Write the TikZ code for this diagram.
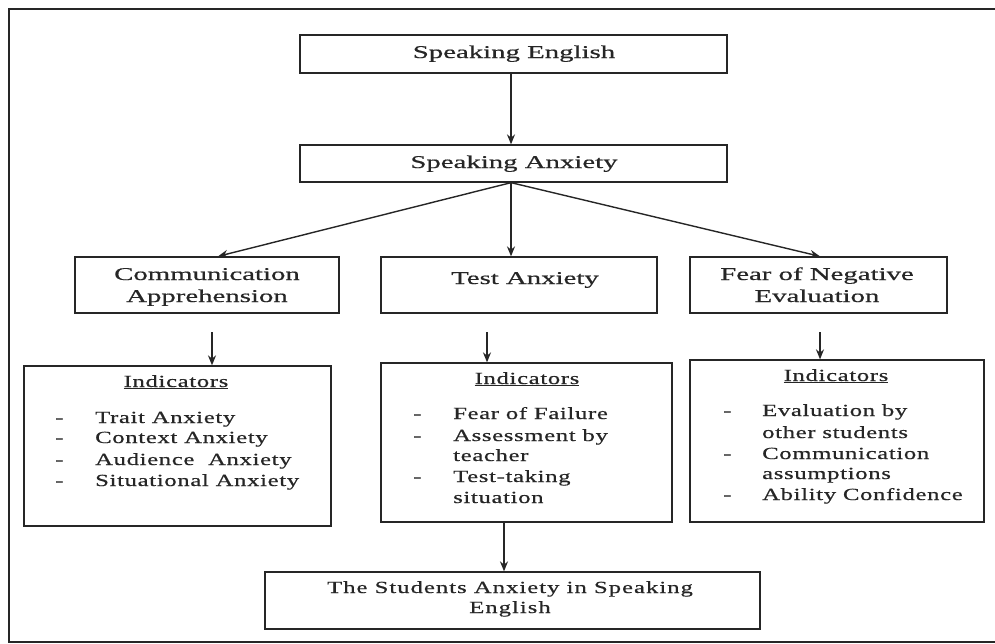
\documentclass[tikz,border=0pt]{standalone}
\usepackage{fontspec}
\setmainfont{Liberation Serif}
\newfontfamily\topfont[FakeStretch=1.6,FakeBold=0.6]{Liberation Serif}
\newfontfamily\indfont[FakeStretch=1.45,LetterSpace=4,FakeBold=0.6]{Liberation Serif}
\newfontfamily\botfont[FakeStretch=1.45,LetterSpace=6,FakeBold=0.6]{Liberation Serif}
\usetikzlibrary{arrows.meta}
\tikzset{
 box/.style={draw=black!85, line width=1.3pt, inner sep=0pt},
 arr/.style={-{Stealth[length=10pt,width=8pt]}, line width=1.4pt, draw=black!85},
 ttext/.style={font=\topfont\fontsize{18}{22}\selectfont, anchor=base, inner sep=0pt, text=black!85},
 itext/.style={font=\indfont\fontsize{17}{20}\selectfont, anchor=base west, inner sep=0pt, text=black!85},
 ihead/.style={font=\indfont\fontsize{17}{20}\selectfont, anchor=base, inner sep=0pt, text=black!85},
 btext/.style={font=\botfont\fontsize{17}{20}\selectfont, anchor=base, inner sep=0pt, text=black!85},
}
\begin{document}
\begin{tikzpicture}[x=1pt,y=-1pt]
\useasboundingbox (0,0) rectangle (995,643);
% frame
\draw[line width=1.6pt, black!85] (995,9) -- (9,9) -- (9,642) -- (995,642);

% boxes
\node[box, minimum width=427pt, minimum height=38pt] (se) at (513.5,54) {};
\node[box, minimum width=427pt, minimum height=37pt] (sa) at (513.5,163.5) {};
\node[box, minimum width=264pt, minimum height=56pt] (comm) at (207,285) {};
\node[box, minimum width=276pt, minimum height=56pt] (test) at (519,285) {};
\node[box, minimum width=257pt, minimum height=56pt] (fear) at (818.5,285) {};
\node[box, minimum width=307pt, minimum height=160pt] (ind1) at (177.5,446) {};
\node[box, minimum width=291pt, minimum height=159pt] (ind2) at (526.5,442.5) {};
\node[box, minimum width=294pt, minimum height=162pt] (ind3) at (837,441) {};
\node[box, minimum width=495pt, minimum height=57pt] (bot) at (512.5,600.5) {};

% texts
\node[ttext] (t1) at (514,58) {Speaking English};
\node[ttext] (t2) at (514,168) {Speaking Anxiety};
\node[ttext] (t3) at (207,280) {Communication};
\node[ttext] (t4) at (207,302) {Apprehension};
\node[ttext] (t5) at (525,284) {Test Anxiety};
\node[ttext] (t6) at (817,280) {Fear of Negative};
\node[ttext] (t7) at (817,302) {Evaluation};

\node[ihead] (h1) at (176,387) {\underline{Indicators}};
\node[itext] (d11) at (55,423) {-};
\node[itext] (l11) at (95,423) {Trait Anxiety};
\node[itext] (d12) at (55,443) {-};
\node[itext] (l12) at (95,443) {Context Anxiety};
\node[itext] (d13) at (55,465) {-};
\node[itext] (l13) at (95,465) {Audience\ \ Anxiety};
\node[itext] (d14) at (55,486) {-};
\node[itext] (l14) at (95,486) {Situational Anxiety};

\node[ihead] (h2) at (527,384) {\underline{Indicators}};
\node[itext] (d21) at (413,419) {-};
\node[itext] (l21) at (453,419) {Fear of Failure};
\node[itext] (d22) at (413,441) {-};
\node[itext] (l22) at (453,441) {Assessment by};
\node[itext] (l23) at (453,461) {teacher};
\node[itext] (d24) at (413,482) {-};
\node[itext] (l24) at (453,482) {Test-taking};
\node[itext] (l25) at (453,503) {situation};

\node[ihead] (h3) at (836,381) {\underline{Indicators}};
\node[itext] (d31) at (723,416) {-};
\node[itext] (l31) at (762,416) {Evaluation by};
\node[itext] (l32) at (762,438) {other students};
\node[itext] (d33) at (723,459) {-};
\node[itext] (l33) at (762,459) {Communication};
\node[itext] (l34) at (762,479) {assumptions};
\node[itext] (d35) at (723,500) {-};
\node[itext] (l35) at (762,500) {Ability Confidence};

\node[btext] (b1) at (510,593) {The Students Anxiety in Speaking};
\node[btext] (b2) at (510,613) {English};

% connectors
\coordinate (x1) at (511,0);
\coordinate (x2) at (218,0);
\coordinate (x3) at (820,0);
\coordinate (a1) at (212,332);
\coordinate (a2) at (487,332);
\coordinate (a3) at (820,332);
\coordinate (a4) at (504,0);
\draw[arr] (x1 |- se.south) -- (x1 |- sa.north);
\draw[arr] (x1 |- sa.south) -- (x2 |- comm.north);
\draw[arr] (x1 |- sa.south) -- (x1 |- test.north);
\draw[arr] (x1 |- sa.south) -- (x3 |- fear.north);
\draw[arr] (a1) -- (a1 |- ind1.north);
\draw[arr] (a2) -- (a2 |- ind2.north);
\draw[arr] (a3) -- (a3 |- ind3.north);
\draw[arr] (a4 |- ind2.south) -- (a4 |- bot.north);
\end{tikzpicture}
\end{document}
